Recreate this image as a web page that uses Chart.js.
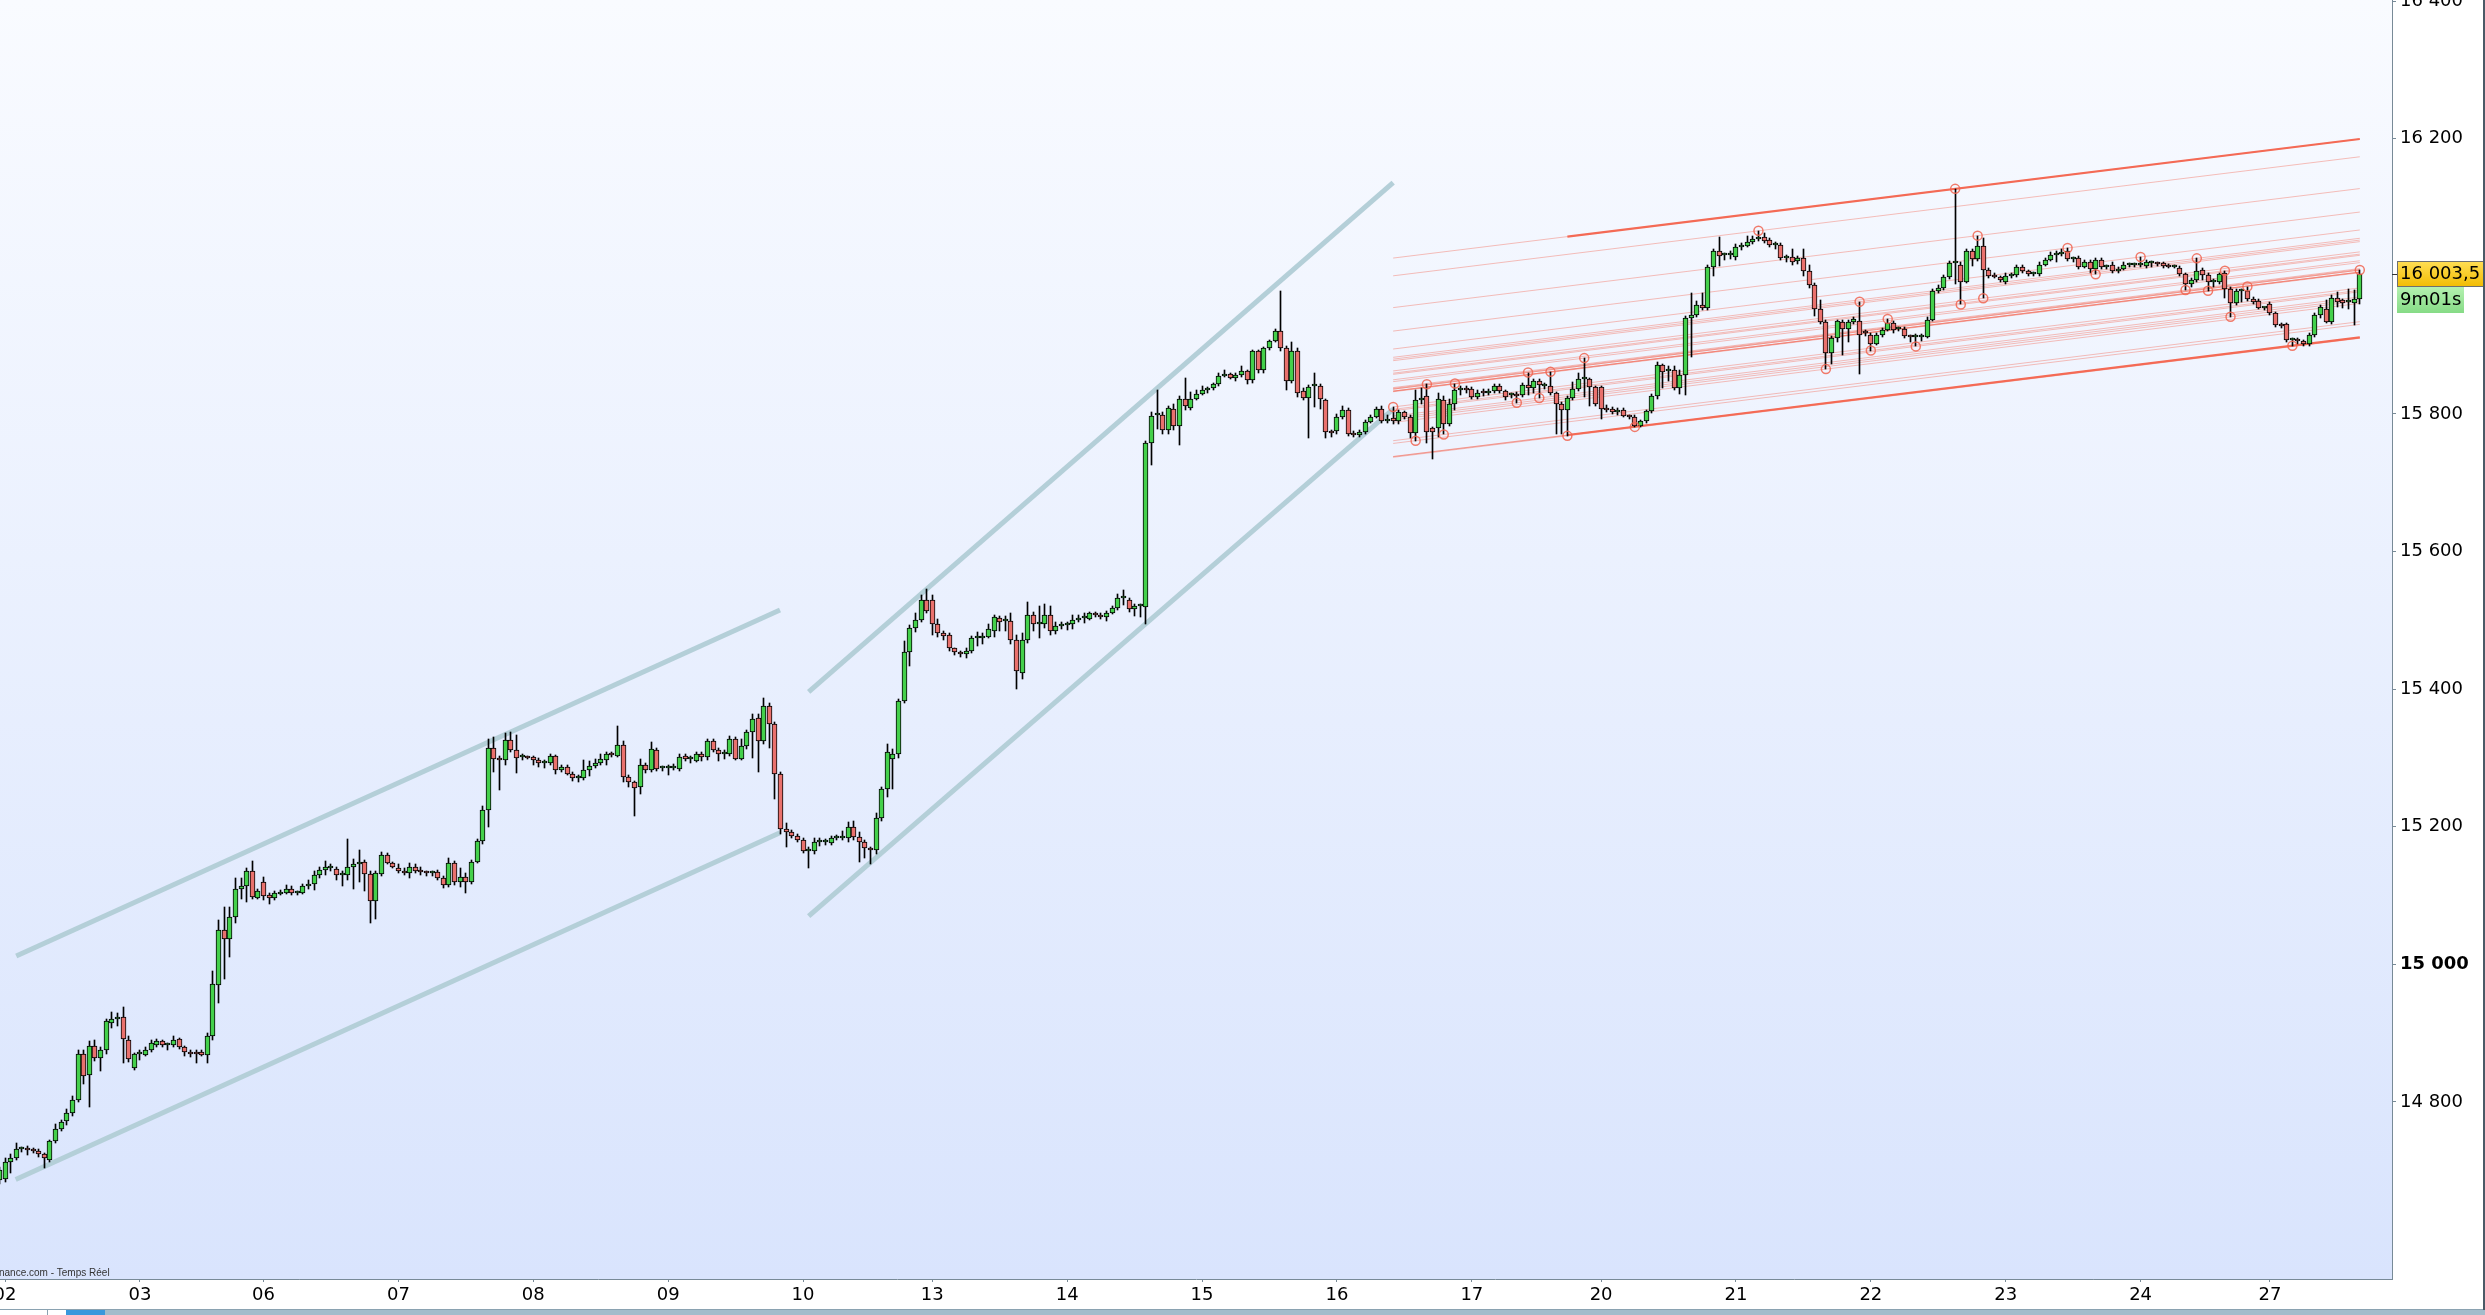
<!DOCTYPE html>
<html>
<head>
<meta charset="utf-8">
<script src="https://cdn.jsdelivr.net/npm/chart.js@4.4.0/dist/chart.umd.min.js"></script>
<style>
  html, body { margin: 0; padding: 0; background: #fff; }
  canvas { display: block; }
</style>
</head>
<body>
<canvas id="chart" width="2485" height="1315"></canvas>
<script>
// hourly candles, the first one sits one slot left of the "02" tick
const firstIdx = -1;

const opens = [
  14686,14688,14712,14718,14731,14732,14730,14729,14724,14716,
  14743,14761,14772,14784,14802,14870,14839,14881,14863,14876,
  14915,14921,14923,14890,14849,14869,14868,14875,14883,14888,
  14882,14882,14891,14879,14872,14872,14872,14868,14896,14970,
  15050,15036,15068,15109,15113,15135,15097,15120,15100,15096,
  15102,15104,15110,15104,15104,15113,15116,15129,15137,15140,
  15138,15130,15129,15141,15145,15149,15131,15092,15131,15159,
  15147,15140,15136,15132,15142,15136,15134,15132,15134,15126,
  15115,15147,15120,15127,15120,15149,15179,15224,15314,15299,
  15297,15326,15311,15301,15301,15301,15297,15293,15293,15302,
  15282,15287,15277,15271,15271,15283,15288,15293,15297,15305,
  15303,15319,15272,15265,15257,15289,15282,15311,15285,15285,
  15285,15284,15302,15299,15296,15305,15301,15324,15312,15306,
  15306,15327,15299,15317,15337,15358,15324,15376,15349,15276,
  15196,15192,15187,15181,15165,15164,15178,15177,15176,15184,
  15184,15184,15200,15185,15177,15169,15166,15213,15255,15298,
  15305,15383,15454,15488,15501,15530,15530,15494,15482,15479,
  15459,15454,15451,15455,15474,15474,15476,15485,15503,15499,
  15499,15472,15424,15472,15507,15495,15495,15507,15484,15492,
  15493,15494,15500,15503,15502,15510,15508,15505,15511,15518,
  15532,15530,15516,15520,15519,15757,15798,15798,15776,15807,
  15783,15822,15809,15822,15829,15834,15837,15843,15855,15858,
  15852,15857,15862,15849,15891,15863,15895,15906,15920,15895,
  15848,15892,15833,15823,15840,15841,15820,15775,15775,15796,
  15806,15771,15769,15773,15788,15796,15807,15790,15794,15790,
  15802,15796,15772,15820,15826,15779,15779,15820,15785,15815,
  15835,15836,15836,15824,15831,15830,15833,15840,15833,15827,
  15827,15827,15842,15837,15848,15841,15841,15830,15815,15805,
  15823,15836,15850,15850,15839,15839,15808,15807,15802,15805,
  15797,15796,15783,15789,15804,15826,15871,15862,15864,15837,
  15856,15939,15944,15958,15954,16013,16036,16031,16031,16028,
  16042,16044,16050,16054,16057,16053,16046,16046,16026,16028,
  16022,16026,16007,15987,15953,15934,15889,15910,15934,15923,
  15934,15935,15919,15915,15902,15914,15922,15932,15923,15924,
  15913,15912,15912,15912,15937,15979,15983,15999,16019,16017,
  15992,16036,16025,16044,16009,16002,15999,15991,16001,16002,
  16014,16007,16003,16003,16017,16024,16031,16033,16036,16025,
  16026,16014,16021,16010,16024,16014,16016,16007,16011,16016,
  16016,16016,16015,16019,16019,16019,16016,16014,16012,16003,
  15988,15995,16009,16002,15991,15991,16004,15982,15961,15978,
  15979,15967,15964,15954,15959,15946,15929,15930,15907,15907,
  15906,15901,15915,15943,15953,15933,15968,15965,15963,15961,
  15967
];
const highs = [
  14705,14718,14724,14740,14735,14736,14733,14732,14726,14745,
  14768,14774,14790,14808,14875,14876,14889,14890,14880,14920,
  14930,14929,14938,14896,14871,14875,14880,14890,14892,14890,
  14886,14895,14893,14881,14876,14875,14876,14900,14990,15065,
  15083,15083,15125,15126,15140,15150,15110,15127,15103,15106,
  15108,15115,15113,15107,15116,15122,15136,15142,15150,15145,
  15141,15135,15182,15153,15166,15152,15135,15135,15163,15162,
  15149,15146,15140,15147,15145,15142,15136,15136,15137,15128,
  15155,15150,15140,15132,15152,15182,15230,15328,15330,15303,
  15336,15337,15333,15306,15303,15303,15300,15297,15305,15304,
  15290,15290,15279,15275,15297,15296,15298,15305,15309,15308,
  15346,15325,15275,15267,15298,15293,15323,15315,15288,15289,
  15291,15306,15306,15303,15308,15308,15328,15327,15314,15312,
  15332,15330,15327,15340,15363,15364,15387,15380,15352,15279,
  15206,15195,15190,15184,15170,15183,15183,15182,15186,15188,
  15193,15207,15208,15192,15180,15170,15220,15257,15320,15313,
  15386,15470,15493,15510,15537,15546,15536,15502,15484,15481,
  15460,15455,15460,15477,15483,15482,15495,15508,15506,15506,
  15511,15478,15482,15526,15512,15521,15524,15521,15497,15497,
  15497,15507,15508,15510,15512,15512,15510,15514,15521,15538,
  15544,15532,15524,15524,15760,15803,15835,15803,15812,15815,
  15826,15852,15832,15834,15840,15839,15845,15860,15863,15860,
  15860,15870,15864,15893,15893,15897,15908,15923,15978,15899,
  15905,15895,15838,15842,15859,15843,15822,15777,15800,15811,
  15808,15775,15777,15791,15799,15810,15812,15798,15810,15806,
  15804,15798,15835,15838,15843,15781,15830,15826,15822,15844,
  15840,15840,15839,15834,15836,15836,15843,15843,15835,15830,
  15832,15845,15860,15851,15851,15845,15861,15832,15817,15826,
  15846,15860,15881,15852,15841,15841,15813,15810,15808,15809,
  15799,15798,15791,15806,15829,15875,15873,15870,15870,15863,
  15942,15975,15964,15976,16017,16040,16057,16034,16036,16047,
  16048,16058,16058,16066,16063,16055,16050,16048,16031,16040,
  16030,16040,16017,15990,15965,15937,15913,15937,15937,15937,
  15941,15963,15922,15917,15917,15925,15938,15935,15926,15926,
  15915,15916,15916,15941,15982,15987,16002,16022,16127,16020,
  16040,16040,16059,16055,16012,16004,16001,16004,16005,16017,
  16016,16009,16006,16020,16027,16035,16036,16039,16041,16028,
  16030,16024,16024,16026,16026,16017,16020,16013,16020,16019,
  16019,16028,16023,16022,16021,16021,16018,16016,16015,16005,
  15998,16026,16012,16005,15996,16005,16008,15985,15981,15982,
  15985,15970,15967,15956,15962,15948,15932,15932,15910,15910,
  15908,15918,15946,15958,15965,15972,15977,15967,15982,15980,
  16009
];
const lows = [
  14680,14683,14696,14716,14727,14723,14725,14720,14704,14712,
  14740,14758,14767,14780,14800,14826,14793,14860,14845,14870,
  14908,14910,14856,14858,14847,14861,14866,14872,14880,14880,
  14875,14880,14877,14866,14865,14857,14866,14856,14890,14943,
  14978,15010,15060,15095,15090,15095,15095,15093,15087,15093,
  15100,15102,15100,15100,15102,15110,15108,15126,15130,15135,
  15122,15113,15123,15110,15120,15107,15060,15066,15128,15145,
  15140,15132,15130,15126,15133,15130,15128,15128,15122,15111,
  15112,15115,15112,15103,15116,15147,15175,15199,15280,15253,
  15290,15308,15278,15297,15298,15290,15286,15285,15290,15276,
  15279,15275,15266,15265,15268,15274,15285,15290,15290,15301,
  15301,15265,15258,15216,15248,15278,15280,15281,15281,15275,
  15282,15281,15295,15293,15294,15296,15297,15308,15296,15299,
  15303,15297,15297,15313,15300,15279,15320,15315,15240,15190,
  15170,15184,15178,15161,15140,15160,15172,15173,15174,15180,
  15180,15178,15180,15148,15155,15145,15160,15208,15243,15255,
  15300,15380,15433,15483,15497,15510,15479,15475,15471,15456,
  15449,15446,15445,15453,15463,15465,15474,15476,15484,15485,
  15465,15400,15414,15467,15484,15474,15489,15478,15480,15487,
  15486,15487,15497,15496,15500,15505,15502,15499,15509,15515,
  15522,15512,15506,15504,15495,15726,15778,15770,15770,15777,
  15754,15806,15806,15820,15827,15831,15834,15840,15853,15850,
  15848,15854,15844,15845,15860,15860,15893,15904,15892,15835,
  15845,15825,15820,15765,15810,15807,15765,15766,15771,15793,
  15768,15766,15767,15771,15786,15794,15786,15786,15785,15785,
  15792,15765,15761,15815,15757,15735,15766,15770,15783,15806,
  15828,15831,15821,15822,15826,15828,15831,15830,15820,15823,
  15816,15824,15828,15830,15823,15836,15828,15771,15771,15768,
  15820,15833,15825,15812,15812,15792,15803,15800,15799,15795,
  15793,15781,15781,15787,15801,15822,15838,15847,15835,15829,
  15828,15882,15941,15951,15951,16001,16015,16024,16025,16024,
  16038,16042,16047,16051,16049,16043,16040,16024,16020,16017,
  16018,16000,15983,15942,15930,15865,15873,15905,15886,15904,
  15930,15858,15913,15892,15900,15912,15920,15918,15920,15910,
  15905,15898,15906,15910,15935,15976,15980,15996,15988,15959,
  15990,16015,16022,15968,15998,15997,15992,15989,15998,15999,
  16004,16001,16000,16000,16015,16022,16020,16030,16022,16020,
  16010,16012,16005,16003,16010,16010,16005,16005,16009,16014,
  16014,16013,16012,16014,16015,16012,16012,16012,16000,15980,
  15985,15992,15995,15979,15985,15988,15968,15941,15958,15962,
  15964,15960,15952,15951,15944,15926,15925,15905,15899,15902,
  15899,15899,15912,15940,15932,15930,15955,15954,15952,15929,
  15960
];
const closes = [
  14701,14712,14718,14731,14732,14730,14729,14724,14718,14743,
  14761,14771,14784,14802,14869,14838,14881,14863,14875,14917,
  14921,14921,14891,14862,14869,14869,14876,14885,14888,14882,
  14882,14890,14879,14872,14869,14869,14868,14896,14971,15050,
  15036,15068,15109,15114,15135,15098,15106,15099,15096,15103,
  15105,15110,15103,15104,15113,15117,15129,15137,15141,15140,
  15130,15130,15141,15145,15149,15131,15092,15132,15159,15147,
  15142,15135,15132,15142,15136,15134,15132,15134,15126,15115,
  15147,15120,15127,15120,15149,15179,15224,15314,15299,15297,
  15326,15311,15300,15301,15300,15297,15292,15293,15302,15282,
  15286,15277,15270,15271,15283,15288,15293,15298,15305,15304,
  15318,15272,15265,15256,15289,15283,15313,15284,15285,15285,
  15286,15301,15299,15299,15305,15301,15324,15312,15305,15306,
  15328,15299,15317,15337,15356,15324,15376,15349,15276,15196,
  15192,15187,15181,15164,15165,15178,15178,15177,15184,15184,
  15185,15199,15185,15177,15169,15166,15213,15255,15308,15305,
  15383,15454,15488,15501,15530,15513,15494,15482,15477,15459,
  15454,15451,15456,15474,15474,15477,15487,15504,15498,15499,
  15471,15426,15472,15507,15494,15495,15507,15484,15492,15492,
  15493,15501,15503,15503,15510,15508,15505,15511,15518,15532,
  15532,15516,15520,15520,15757,15797,15798,15776,15809,15783,
  15822,15812,15822,15829,15834,15837,15843,15855,15858,15852,
  15857,15862,15849,15891,15863,15895,15906,15920,15895,15848,
  15892,15831,15823,15839,15841,15821,15774,15772,15796,15806,
  15770,15769,15773,15788,15796,15807,15790,15793,15789,15802,
  15796,15772,15820,15823,15774,15774,15822,15785,15815,15835,
  15836,15835,15824,15831,15830,15833,15840,15833,15825,15827,
  15826,15842,15837,15848,15842,15841,15831,15815,15805,15823,
  15836,15850,15850,15839,15815,15807,15806,15802,15805,15797,
  15796,15783,15789,15804,15826,15871,15861,15865,15838,15856,
  15939,15944,15958,15954,16013,16036,16030,16031,16031,16042,
  16044,16050,16054,16057,16051,16046,16046,16026,16028,16020,
  16026,16007,15987,15953,15934,15889,15910,15935,15924,15934,
  15938,15915,15917,15902,15914,15922,15932,15922,15923,15913,
  15912,15912,15913,15937,15979,15983,15999,16019,16019,15992,
  16036,16025,16044,16009,16001,15999,15994,16001,16001,16014,
  16007,16003,16003,16017,16024,16031,16033,16035,16025,16025,
  16014,16021,16010,16024,16013,16014,16007,16011,16017,16016,
  16016,16017,16020,16019,16018,16015,16014,16014,16003,15988,
  15995,16007,16002,15991,15991,16003,15982,15961,15978,15978,
  15967,15962,15954,15954,15946,15929,15928,15907,15907,15906,
  15901,15915,15943,15955,15934,15968,15963,15961,15963,15967,
  16003.5
];

// x-axis: first candle of each session
const dayIdx = [0, 24, 46, 70, 94, 118, 142, 165, 189, 213, 237, 261, 284, 308, 332, 356, 380, 403];
const dayLabels = ['02', '03', '06', '07', '08', '09', '10', '13', '14', '15', '16', '17', '20', '21', '22', '23', '24', '27'];
const yTicks = [14800, 15000, 15200, 15400, 15600, 15800, 16200, 16400];

// pivot points (circles) of the parallel-line tool
const pivotIdx = [247, 251, 253, 256, 258, 269, 271, 273, 275, 278, 281, 290, 312, 324, 330, 332, 335,
  340, 347, 348, 351, 352, 367, 372, 380, 388, 390, 392, 395, 396, 399, 407, 419];
const pivotPrice = [15810, 15761, 15843, 15770, 15844, 15816, 15860, 15823, 15861, 15768, 15881, 15781, 16066,
  15865, 15963, 15892, 15938, 15898, 16127, 15959, 16059, 15968, 16041, 16003, 16028, 15980, 16026, 15979,
  16008, 15941, 15985, 15899, 16009];
const channelSlope = 1.006;   // points per candle
const channelFrom = 247;
const channelTo = 419;
const boldFrom = 278;
const boldPivots = [347, 407];

// hand drawn blue channels: [candle, price]
const trendA = [[2.0, 15012], [137.9, 15515]];
const trendB = [[1.9, 14687], [137.9, 15191]];
const trendC = [[143.0, 15396], [247.0, 16136]];
const trendD = [[143.0, 15070], [247.0, 15807]];

const timerText = '9m01s';

const green = '#44d04b';
const red = '#e9716d';
const axisGrey = '#788a97';
const font = 'DejaVu Sans';

function fmtPrice(v, dec) {
  const s = v.toFixed(dec);
  const parts = s.split('.');
  const ip = parts[0];
  const th = ip.length > 3 ? ip.slice(0, -3) + ' ' + ip.slice(-3) : ip;
  return parts[1] ? th + ',' + parts[1] : th;
}

const xs = closes.map((c, k) => k + firstIdx);

const lineDs = (pts, color, width, order) => ({
  type: 'line',
  data: pts.map(p => ({x: p[0], y: p[1]})),
  borderColor: color,
  borderWidth: width,
  pointRadius: 0,
  fill: false,
  tension: 0,
  order: order
});

const pivotLine = (k, from) => [
  [from, pivotPrice[k] + (from - pivotIdx[k]) * channelSlope],
  [channelTo, pivotPrice[k] + (channelTo - pivotIdx[k]) * channelSlope]
];

const datasets = [];

// candle bodies and wicks
datasets.push({
  type: 'bar',
  data: xs.map((x, k) => ({x: x, y: [opens[k], closes[k]]})),
  backgroundColor: xs.map((x, k) => closes[k] >= opens[k] ? green : red),
  borderColor: '#000',
  borderWidth: 1,
  borderSkipped: false,
  barThickness: 5,
  minBarLength: 2,
  grouped: false,
  order: 1
});
datasets.push({
  type: 'bar',
  data: xs.map((x, k) => ({x: x, y: [lows[k], highs[k]]})),
  backgroundColor: '#000',
  borderWidth: 0,
  barThickness: 1,
  grouped: false,
  order: 2
});

// pivot circles on top
datasets.push({
  type: 'line',
  data: pivotIdx.map((x, k) => ({x: x, y: pivotPrice[k]})),
  showLine: false,
  pointRadius: 4.5,
  pointBorderWidth: 1.5,
  pointBorderColor: 'rgba(240, 100, 80, 0.85)',
  pointBackgroundColor: 'rgba(255, 255, 255, 0)',
  order: 0
});

// faint parallels through every pivot
pivotIdx.forEach((p, k) => {
  datasets.push(lineDs(pivotLine(k, channelFrom), 'rgba(242, 105, 85, 0.42)', 1, 4));
});
// bold channel borders
boldPivots.forEach(p => {
  const k = pivotIdx.indexOf(p);
  datasets.push(lineDs(pivotLine(k, boldFrom), '#f46a55', 2.2, 3));
});

[trendA, trendB, trendC, trendD].forEach(t => {
  datasets.push(lineDs(t, '#b4cfd8', 5, 5));
});

// snap candle rectangles to whole pixels so the thin outlines stay crisp
const snapCandles = {
  id: 'snapCandles',
  afterDatasetsUpdate(chart) {
    [0, 1].forEach(di => {
      chart.getDatasetMeta(di).data.forEach(el => {
        el.x = Math.floor(el.x) + 0.5;
        el.y = Math.round(el.y);
        el.base = Math.round(el.base);
      });
    });
  }
};

const decor = {
  id: 'decor',
  beforeDraw(chart) {
    const {ctx, chartArea: a} = chart;
    ctx.save();
    ctx.fillStyle = '#fff';
    ctx.fillRect(0, 0, chart.width, chart.height);
    const g = ctx.createLinearGradient(0, a.top, 0, a.bottom);
    g.addColorStop(0, '#f9fbff');
    g.addColorStop(1, '#d9e4fd');
    ctx.fillStyle = g;
    ctx.fillRect(a.left, a.top, a.right - a.left, a.bottom - a.top);
    ctx.restore();
  },
  afterDraw(chart) {
    const {ctx, chartArea: a} = chart;
    const yScale = chart.scales.y;
    const last = closes[closes.length - 1];
    const y = Math.round(yScale.getPixelForValue(last));
    ctx.save();

    // last price tick + yellow box
    ctx.strokeStyle = '#333';
    ctx.lineWidth = 1;
    ctx.beginPath();
    ctx.moveTo(a.right, y + 0.5);
    ctx.lineTo(a.right + 6, y + 0.5);
    ctx.stroke();

    const bx = a.right + 5;
    let g = ctx.createLinearGradient(0, y - 13, 0, y + 12);
    g.addColorStop(0, '#ffde55');
    g.addColorStop(1, '#f3bd05');
    ctx.fillStyle = g;
    ctx.fillRect(bx, y - 13, chart.width - bx - 1, 25);
    ctx.strokeStyle = '#6f6f6f';
    ctx.strokeRect(bx + 0.5, y - 12.5, chart.width - bx - 2, 25);

    g = ctx.createLinearGradient(0, y + 12, 0, y + 39);
    g.addColorStop(0, '#b6f2b2');
    g.addColorStop(1, '#86db86');
    ctx.fillStyle = g;
    ctx.fillRect(bx, y + 13, 67, 26);

    ctx.fillStyle = '#000';
    ctx.font = '18px "' + font + '"';
    ctx.textBaseline = 'middle';
    ctx.textAlign = 'left';
    ctx.fillText(fmtPrice(last, 1), bx + 3, y);
    ctx.fillText(timerText, bx + 3, y + 26);

    // source note
    ctx.font = '10px "Liberation Sans", Arial';
    ctx.fillStyle = '#333';
    ctx.textBaseline = 'alphabetic';
    ctx.fillText('nance.com - Temps Réel', -1, a.bottom - 3);

    // scroll strip
    const sy = chart.height - 5;
    ctx.fillStyle = '#a2bccb';
    ctx.fillRect(0, sy, chart.width, 5);
    ctx.fillStyle = '#fff';
    ctx.fillRect(0, sy, 66, 5);
    ctx.fillStyle = '#3a98dc';
    ctx.fillRect(66, sy, 39, 5);
    ctx.fillStyle = '#8aa2b1';
    ctx.fillRect(0, sy - 1, chart.width, 1);
    ctx.fillRect(47, sy, 1, 5);

    // right frame
    ctx.fillStyle = '#4b5a66';
    ctx.fillRect(chart.width - 2, 0, 2, sy);
    ctx.restore();
  }
};

const ctx = document.getElementById('chart').getContext('2d');
const chart = new Chart(ctx, {
  type: 'bar',
  data: { datasets: datasets },
  options: {
    responsive: false,
    devicePixelRatio: 1,
    animation: false,
    events: [],
    layout: { padding: 0, autoPadding: false },
    plugins: { legend: { display: false }, tooltip: { enabled: false } },
    scales: {
      x: {
        type: 'linear',
        min: -0.89,
        max: 424.73,
        offset: false,
        grid: { drawOnChartArea: false, tickLength: 3, color: axisGrey, offset: false },
        border: { color: axisGrey, width: 1 },
        ticks: {
          autoSkip: false,
          maxRotation: 0,
          padding: 3,
          color: '#000',
          font: { family: font, size: 18 },
          callback: v => dayLabels[dayIdx.indexOf(v)]
        },
        afterBuildTicks: s => { s.ticks = dayIdx.map(v => ({value: v})); },
        afterFit: s => { s.height = 36; s.paddingLeft = 0; s.paddingRight = 0; }
      },
      y: {
        type: 'linear',
        position: 'right',
        min: 14542.5,
        max: 16401.5,
        grid: { drawOnChartArea: false, tickLength: 4, color: axisGrey },
        border: { color: axisGrey, width: 1 },
        ticks: {
          padding: 4,
          color: '#000',
          font: c => ({ family: font, size: 18, weight: c.tick && c.tick.value === 15000 ? 'bold' : 'normal' }),
          callback: v => fmtPrice(v, 0)
        },
        afterBuildTicks: s => { s.ticks = yTicks.map(v => ({value: v})); },
        afterFit: s => { s.width = 93; s.paddingTop = 0; s.paddingBottom = 0; }
      }
    }
  },
  plugins: [snapCandles, decor]
});
</script>
</body>
</html>
